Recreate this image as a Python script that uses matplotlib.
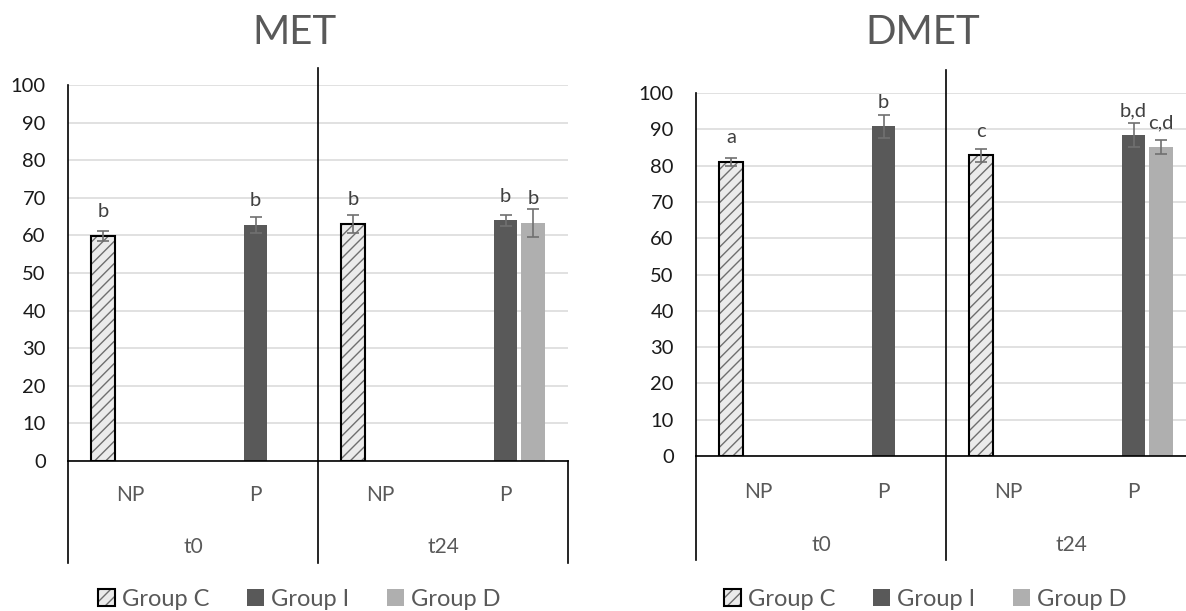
import numpy as np
import matplotlib
matplotlib.use("Agg")
import matplotlib.pyplot as plt
from matplotlib.patches import Patch
from matplotlib.transforms import blended_transform_factory

plt.rcParams['font.family'] = ['Lato', 'DejaVu Sans']
plt.rcParams['hatch.linewidth'] = 1.0

nan = np.nan

# Category axis: sub-category (NP / P) within each time point
subcats = ['NP', 'P', 'NP', 'P']
times = ['t0', 't24']
groups = ['Group C', 'Group I', 'Group D']

# MET (%)
met_c = [59.8, nan, 63.0, nan]
met_c_err = [1.4, nan, 2.4, nan]
met_i = [nan, 62.8, nan, 64.0]
met_i_err = [nan, 2.2, nan, 1.5]
met_d = [nan, nan, nan, 63.4]
met_d_err = [nan, nan, nan, 3.7]
met_c_lbl = ['b', '', 'b', '']
met_i_lbl = ['', 'b', '', 'b']
met_d_lbl = ['', '', '', 'b']

# DMET (%)
dmet_c = [81.0, nan, 82.8, nan]
dmet_c_err = [1.0, nan, 1.7, nan]
dmet_i = [nan, 90.8, nan, 88.3]
dmet_i_err = [nan, 3.2, nan, 3.3]
dmet_d = [nan, nan, nan, 85.1]
dmet_d_err = [nan, nan, nan, 2.0]
dmet_c_lbl = ['a', '', 'c', '']
dmet_i_lbl = ['', 'b', '', 'b,d']
dmet_d_lbl = ['', '', '', 'c,d']

yticks = list(range(0, 101, 10))

W, H = 1186, 611
fig = plt.figure(figsize=(W / 100, H / 100), dpi=100)

C_FILL = '#ebebeb'
C_HATCH = '#6e6e6e'
I_COL = '#595959'
D_COL = '#afafaf'
ERR_COL = '#707070'
TXT = '#595959'
GRID = '#d9d9d9'

OFFS = [-0.22, 0.0, 0.22]
BW = 0.185


def px_box(x0, x1, ytop, ybot):
    return [x0 / W, 1 - ybot / H, (x1 - x0) / W, (ybot - ytop) / H]


def draw_panel(rect, title, title_x, series, errs, labels, sep_top_px,
               line_bot_px, sub_dy, time_dy, legend_x):
    ax = fig.add_axes(rect)
    x = np.arange(len(subcats))
    ax.set_xlim(-0.5, len(subcats) - 0.5)
    ax.set_ylim(0, 100)
    ax.set_yticks(yticks)
    ax.set_axisbelow(True)
    ax.yaxis.grid(True, color=GRID, linewidth=1.1)
    ax.set_xticks([])
    ax.tick_params(axis='y', length=0, pad=16, labelsize=14.5, labelcolor='#1a1a1a')
    for s in ['top', 'right']:
        ax.spines[s].set_visible(False)
    for s in ['left', 'bottom']:
        ax.spines[s].set_color('black')
        ax.spines[s].set_linewidth(1.2)

    # bars
    for gi, (vals, err) in enumerate(zip(series, errs)):
        xs = x + OFFS[gi]
        vals = np.asarray(vals, float)
        err = np.asarray(err, float)
        if gi == 0:
            ax.bar(xs, vals, BW, color=C_FILL, edgecolor=C_HATCH,
                   hatch='///', linewidth=0, zorder=2)
            ax.bar(xs, vals, BW, color='none', edgecolor='black',
                   linewidth=1.5, zorder=3)
        else:
            ax.bar(xs, vals, BW, color=[I_COL, D_COL][gi - 1],
                   linewidth=0, zorder=2)
        ax.errorbar(xs, vals, yerr=err, fmt='none', ecolor=ERR_COL,
                    elinewidth=1.2, capsize=4.5, capthick=1.2, zorder=4)
        for xi, v, lab in zip(xs, vals, labels[gi]):
            if lab and not np.isnan(v):
                ax.annotate(lab, (xi, v), xytext=(0, 13.5),
                            textcoords='offset points', ha='center',
                            va='baseline', fontsize=14.5, color='#404040')

    # multi-level category axis
    bt = blended_transform_factory(ax.transData, ax.transAxes)
    y0_px = (1 - rect[1]) * H
    hpx = rect[3] * H
    ybot = -(line_bot_px - y0_px) / hpx
    ysep = (y0_px - sep_top_px) / hpx
    ax.plot([-0.5, -0.5], [0, ybot], color='black', lw=1.2,
            transform=bt, clip_on=False)
    ax.plot([1.5, 1.5], [ybot, ysep], color='black', lw=1.2,
            transform=bt, clip_on=False)
    ax.plot([3.5, 3.5], [0, ybot], color='black', lw=1.2,
            transform=bt, clip_on=False)
    for xi, lab in zip(x, subcats):
        ax.text(xi, -sub_dy / hpx, lab, transform=bt, ha='center',
                va='center', fontsize=15, color=TXT)
    for ti, lab in enumerate(times):
        ax.text(0.5 + 2 * ti, -time_dy / hpx, lab, transform=bt,
                ha='center', va='center', fontsize=15, color=TXT)

    fig.text(title_x / W, 1 - 32 / H, title, ha='center', va='center',
             fontsize=29, color=TXT)

    h_c = (Patch(facecolor=C_FILL, edgecolor=C_HATCH, hatch='///', linewidth=0),
           Patch(facecolor='none', edgecolor='black', linewidth=1.5))
    h_i = Patch(facecolor=I_COL, linewidth=0)
    h_d = Patch(facecolor=D_COL, linewidth=0)
    leg = fig.legend([h_c, h_i, h_d], groups, loc='center',
                     bbox_to_anchor=(legend_x / W, 1 - 599 / H), ncol=3,
                     frameon=False, fontsize=17, handlelength=0.72,
                     handleheight=0.72, handletextpad=0.3,
                     columnspacing=1.6, borderaxespad=0)
    for t in leg.get_texts():
        t.set_color(TXT)
    return ax


draw_panel(px_box(68, 568, 85, 461), 'MET', 295,
           [met_c, met_i, met_d], [met_c_err, met_i_err, met_d_err],
           [met_c_lbl, met_i_lbl, met_d_lbl],
           sep_top_px=68, line_bot_px=563, sub_dy=34, time_dy=86,
           legend_x=299)

draw_panel(px_box(696, 1196, 93, 456), 'DMET', 923,
           [dmet_c, dmet_i, dmet_d], [dmet_c_err, dmet_i_err, dmet_d_err],
           [dmet_c_lbl, dmet_i_lbl, dmet_d_lbl],
           sep_top_px=70, line_bot_px=560, sub_dy=36, time_dy=89,
           legend_x=925)

fig.savefig('out.png', dpi=100)
